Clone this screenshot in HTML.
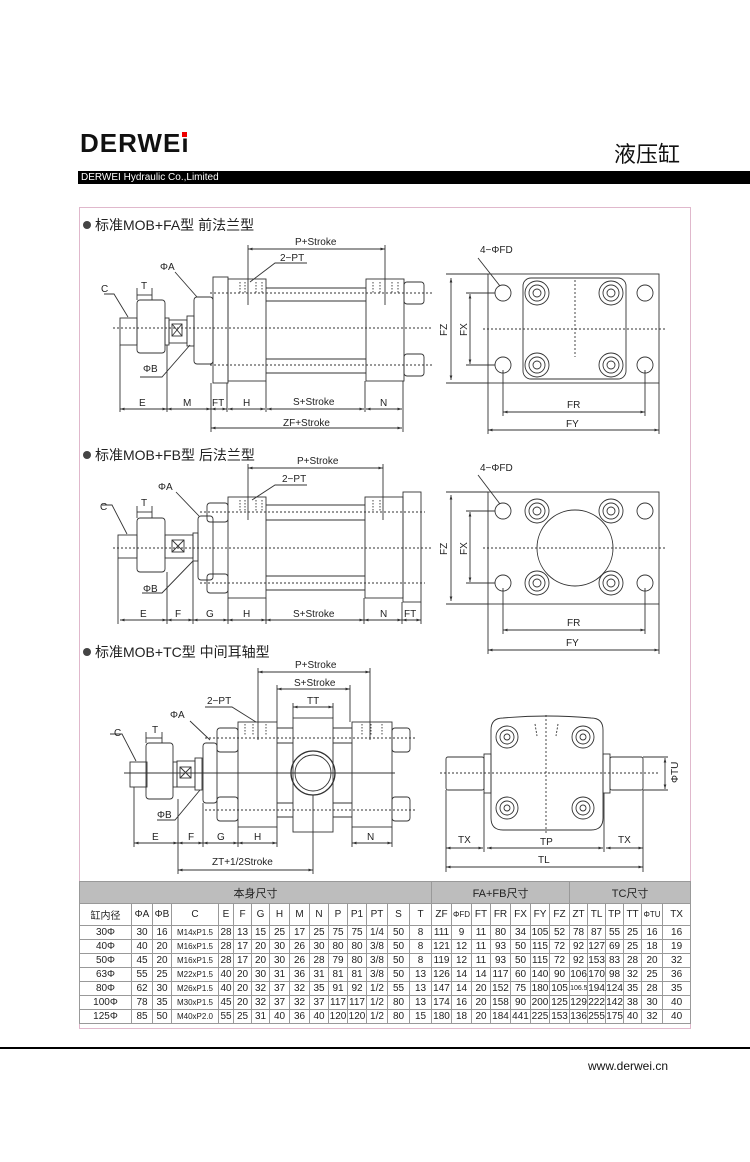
<!DOCTYPE html>
<html><head><meta charset="utf-8"><style>
body{margin:0;background:#fff;width:750px;height:1162px;position:relative;overflow:hidden;font-family:"Liberation Sans","Noto Sans CJK SC",sans-serif}
.abs{position:absolute}
table{border-collapse:collapse;table-layout:fixed;position:absolute;left:79px;top:881px;width:611px;font-size:10px;color:#222}
td{border:1px solid #999;text-align:center;padding:0;height:13px;white-space:nowrap;overflow:hidden}
tr.h1 td{background:#bdbdbd;height:21px;font-size:11px}
tr.h2 td{height:21px;font-size:10px}
</style></head><body>
<div class="abs" style="left:80px;top:128px;font-size:26px;font-weight:bold;letter-spacing:1px;color:#111">DERWE<span style="position:relative">ı<span style="position:absolute;left:1px;top:4px;width:5px;height:5px;background:#e00"></span></span></div>
<div class="abs" style="left:614px;top:137px;font-size:22px;color:#111">液压缸</div>
<div class="abs" style="left:78px;top:171px;width:672px;height:13px;background:#000;color:#fff;font-size:10px;line-height:13px;padding-left:3px">DERWEI Hydraulic Co.,Limited</div>
<div class="abs" style="left:79px;top:207px;width:610px;height:820px;border:1px solid #e0b8cc"></div>
<div class="abs" style="left:0;top:1047px;width:750px;height:2px;background:#000"></div>
<div class="abs" style="left:588px;top:1059px;font-size:12px;color:#111">www.derwei.cn</div>

<svg class="abs" style="left:0;top:0" width="750" height="1162" font-family="Liberation Sans, sans-serif" font-size="10" fill="none" stroke="#333" stroke-width="0.9">
<defs><marker id="a" viewBox="0 0 10 10" refX="10" refY="5" markerWidth="6" markerHeight="5" orient="auto-start-reverse"><path d="M0,2 L10,5 L0,8z" fill="#333" stroke="none"/></marker></defs>
<g fill="#222" stroke="none" font-size="14" font-family="Liberation Sans, Noto Sans CJK SC, sans-serif">
<circle cx="87" cy="225" r="4" fill="#444"/><text x="95" y="230">标准MOB+FA型 前法兰型</text>
<circle cx="87" cy="455" r="4" fill="#444"/><text x="95" y="460">标准MOB+FB型 后法兰型</text>
<circle cx="87" cy="652" r="4" fill="#444"/><text x="95" y="657">标准MOB+TC型 中间耳轴型</text>
</g>

<!-- FA left -->
<g>
<line x1="113" y1="328" x2="432" y2="328" stroke-dasharray="2,2"/>
<line x1="210" y1="293" x2="432" y2="293" stroke-dasharray="2,2"/>
<line x1="210" y1="365" x2="432" y2="365" stroke-dasharray="2,2"/>
<rect x="120" y="318" width="17" height="27"/><rect x="137" y="300" width="28" height="53" rx="3"/>
<rect x="165" y="318" width="4" height="27"/><rect x="169" y="320" width="18" height="23"/>
<rect x="172" y="324" width="10" height="12"/><path d="M172,324 L182,336 M182,324 L172,336"/>
<rect x="187" y="316" width="7" height="30"/>
<rect x="194" y="297" width="19" height="67" rx="3"/>
<rect x="213" y="277" width="15" height="106"/>
<rect x="228" y="279" width="38" height="102"/>
<line x1="266" y1="288" x2="366" y2="288"/><line x1="266" y1="301" x2="366" y2="301"/>
<line x1="266" y1="359" x2="366" y2="359"/><line x1="266" y1="373" x2="366" y2="373"/>
<rect x="366" y="279" width="38" height="102"/>
<rect x="404" y="282" width="20" height="22" rx="3"/><rect x="404" y="354" width="20" height="22" rx="3"/>
<path d="M240,282 v12 M245,282 v12 M256,282 v12 M262,282 v12 M373,282 v12 M380,282 v12 M392,282 v12 M398,282 v12" stroke-dasharray="1.5,1.5"/>
<line x1="248" y1="245" x2="248" y2="305"/><line x1="385" y1="245" x2="385" y2="305"/>
<line x1="248" y1="249" x2="385" y2="249" marker-start="url(#a)" marker-end="url(#a)"/>
<path d="M250,282 L275,263 L307,263"/>
<path d="M175,272 L197,297"/><path d="M104,294 L114,294 L128,317"/><path d="M190,345 L162,377 L140,377"/>
<line x1="137" y1="288" x2="137" y2="300"/><line x1="152" y1="288" x2="152" y2="300"/>
<line x1="137" y1="295" x2="152" y2="295"/>
<path d="M120,345 V412 M167,345 V412 M211,383 V432 M227,383 V412 M266,381 V412 M365,381 V412 M403,381 V432"/>
<line x1="120" y1="409" x2="167" y2="409" marker-start="url(#a)" marker-end="url(#a)"/>
<line x1="167" y1="409" x2="211" y2="409" marker-start="url(#a)" marker-end="url(#a)"/>
<line x1="211" y1="409" x2="227" y2="409" marker-start="url(#a)" marker-end="url(#a)"/>
<line x1="228" y1="409" x2="265" y2="409" marker-start="url(#a)" marker-end="url(#a)"/>
<line x1="267" y1="409" x2="364" y2="409" marker-start="url(#a)" marker-end="url(#a)"/>
<line x1="366" y1="409" x2="402" y2="409" marker-start="url(#a)" marker-end="url(#a)"/>
<line x1="211" y1="428" x2="402" y2="428" marker-start="url(#a)" marker-end="url(#a)"/>
<g fill="#222" stroke="none"><text x="295" y="245">P+Stroke</text><text x="280" y="261">2−PT</text><text x="160" y="270">ΦA</text><text x="101" y="292">C</text><text x="141" y="289">T</text><text x="143" y="372">ΦB</text>
<text x="139" y="406">E</text><text x="183" y="406">M</text><text x="212" y="406">FT</text><text x="243" y="406">H</text><text x="293" y="405">S+Stroke</text><text x="380" y="406">N</text><text x="283" y="426">ZF+Stroke</text></g>
</g>

<!-- FA right -->
<g>
<rect x="488" y="274" width="171" height="109"/><rect x="523" y="278" width="103" height="101" rx="8"/>
<line x1="483" y1="329" x2="667" y2="329" stroke-dasharray="2,2"/><line x1="575" y1="280" x2="575" y2="357" stroke-dasharray="2,2"/>
<circle cx="503" cy="293" r="8"/><circle cx="645" cy="293" r="8"/><circle cx="503" cy="365" r="8"/><circle cx="645" cy="365" r="8"/>
<g><circle cx="537" cy="293" r="12"/><circle cx="537" cy="293" r="8"/><circle cx="537" cy="293" r="4"/>
<circle cx="611" cy="293" r="12"/><circle cx="611" cy="293" r="8"/><circle cx="611" cy="293" r="4"/>
<circle cx="537" cy="365" r="12"/><circle cx="537" cy="365" r="8"/><circle cx="537" cy="365" r="4"/>
<circle cx="611" cy="365" r="12"/><circle cx="611" cy="365" r="8"/><circle cx="611" cy="365" r="4"/></g>
<path d="M446,274 H488 M446,383 H488 M466,293 H495 M466,365 H495 M503,370 V416 M645,370 V416 M488,383 V434 M659,383 V434"/>
<line x1="451" y1="278" x2="451" y2="380" marker-start="url(#a)" marker-end="url(#a)"/>
<line x1="470" y1="294" x2="470" y2="364" marker-start="url(#a)" marker-end="url(#a)"/>
<line x1="503" y1="412" x2="645" y2="412" marker-start="url(#a)" marker-end="url(#a)"/>
<line x1="488" y1="430" x2="659" y2="430" marker-start="url(#a)" marker-end="url(#a)"/>
<path d="M478,258 L500,286"/>
<g fill="#222" stroke="none"><text x="480" y="253">4−ΦFD</text><text x="567" y="408">FR</text><text x="566" y="427">FY</text>
<text transform="translate(447,336) rotate(-90)">FZ</text><text transform="translate(467,336) rotate(-90)">FX</text></g>
</g>

<!-- FB left -->
<g>
<line x1="113" y1="548" x2="432" y2="548" stroke-dasharray="2,2"/>
<line x1="200" y1="512" x2="425" y2="512" stroke-dasharray="2,2"/>
<line x1="200" y1="583" x2="425" y2="583" stroke-dasharray="2,2"/>
<rect x="118" y="535" width="19" height="23"/><rect x="137" y="518" width="28" height="54" rx="3"/>
<rect x="165" y="535" width="28" height="23"/><rect x="172" y="540" width="12" height="12"/><path d="M172,540 L184,552 M184,540 L172,552"/>
<rect x="193" y="533" width="5" height="28"/><rect x="198" y="516" width="15" height="64" rx="3"/>
<rect x="207" y="503" width="21" height="19" rx="3"/><rect x="207" y="574" width="21" height="19" rx="3"/>
<rect x="228" y="497" width="38" height="101"/>
<line x1="266" y1="505" x2="365" y2="505"/><line x1="266" y1="520" x2="365" y2="520"/>
<line x1="266" y1="576" x2="365" y2="576"/><line x1="266" y1="590" x2="365" y2="590"/>
<rect x="365" y="497" width="38" height="101"/><rect x="403" y="492" width="18" height="110"/>
<path d="M240,500 v12 M245,500 v12 M256,500 v12 M262,500 v12 M373,500 v12 M380,500 v12" stroke-dasharray="1.5,1.5"/>
<line x1="248" y1="464" x2="248" y2="520"/><line x1="383" y1="464" x2="383" y2="520"/>
<line x1="248" y1="468" x2="383" y2="468" marker-start="url(#a)" marker-end="url(#a)"/>
<path d="M252,500 L275,485 L307,485"/>
<path d="M176,492 L199,516"/><path d="M102,505 L112,505 L127,534"/><path d="M193,561 L162,593 L142,593"/>
<line x1="137" y1="506" x2="137" y2="518"/><line x1="152" y1="506" x2="152" y2="518"/><line x1="137" y1="512" x2="152" y2="512"/>
<path d="M118,558 V624 M167,572 V624 M193,561 V624 M228,598 V624 M266,598 V624 M364,598 V624 M402,602 V624 M421,602 V624"/>
<line x1="120" y1="620" x2="167" y2="620" marker-start="url(#a)" marker-end="url(#a)"/>
<line x1="167" y1="620" x2="193" y2="620" marker-start="url(#a)" marker-end="url(#a)"/>
<line x1="193" y1="620" x2="228" y2="620" marker-start="url(#a)" marker-end="url(#a)"/>
<line x1="228" y1="620" x2="266" y2="620" marker-start="url(#a)" marker-end="url(#a)"/>
<line x1="266" y1="620" x2="364" y2="620" marker-start="url(#a)" marker-end="url(#a)"/>
<line x1="364" y1="620" x2="402" y2="620" marker-start="url(#a)" marker-end="url(#a)"/>
<line x1="402" y1="620" x2="421" y2="620" marker-start="url(#a)" marker-end="url(#a)"/>
<g fill="#222" stroke="none"><text x="297" y="464">P+Stroke</text><text x="282" y="482">2−PT</text><text x="158" y="490">ΦA</text><text x="100" y="510">C</text><text x="141" y="506">T</text><text x="143" y="592">ΦB</text>
<text x="140" y="617">E</text><text x="175" y="617">F</text><text x="206" y="617">G</text><text x="243" y="617">H</text><text x="293" y="617">S+Stroke</text><text x="380" y="617">N</text><text x="404" y="617">FT</text></g>
</g>

<!-- FB right -->
<g>
<rect x="488" y="492" width="171" height="112"/><circle cx="575" cy="548" r="38"/>
<line x1="483" y1="548" x2="667" y2="548" stroke-dasharray="2,2"/>
<circle cx="503" cy="511" r="8"/><circle cx="645" cy="511" r="8"/><circle cx="503" cy="583" r="8"/><circle cx="645" cy="583" r="8"/>
<g><circle cx="537" cy="511" r="12"/><circle cx="537" cy="511" r="8"/><circle cx="537" cy="511" r="4"/>
<circle cx="611" cy="511" r="12"/><circle cx="611" cy="511" r="8"/><circle cx="611" cy="511" r="4"/>
<circle cx="537" cy="583" r="12"/><circle cx="537" cy="583" r="8"/><circle cx="537" cy="583" r="4"/>
<circle cx="611" cy="583" r="12"/><circle cx="611" cy="583" r="8"/><circle cx="611" cy="583" r="4"/></g>
<path d="M446,492 H488 M446,604 H488 M466,511 H495 M466,583 H495 M503,588 V634 M645,588 V634 M488,604 V654 M659,604 V654"/>
<line x1="451" y1="495" x2="451" y2="601" marker-start="url(#a)" marker-end="url(#a)"/>
<line x1="470" y1="512" x2="470" y2="582" marker-start="url(#a)" marker-end="url(#a)"/>
<line x1="503" y1="630" x2="645" y2="630" marker-start="url(#a)" marker-end="url(#a)"/>
<line x1="488" y1="650" x2="659" y2="650" marker-start="url(#a)" marker-end="url(#a)"/>
<path d="M478,475 L500,504"/>
<g fill="#222" stroke="none"><text x="480" y="471">4−ΦFD</text><text x="567" y="626">FR</text><text x="566" y="646">FY</text>
<text transform="translate(447,555) rotate(-90)">FZ</text><text transform="translate(467,555) rotate(-90)">FX</text></g>
</g>

<!-- TC left -->
<g>
<line x1="124" y1="773" x2="395" y2="773"/>
<line x1="205" y1="738" x2="415" y2="738" stroke-dasharray="2,2"/>
<line x1="205" y1="810" x2="415" y2="810" stroke-dasharray="2,2"/>
<rect x="130" y="762" width="17" height="25"/><rect x="146" y="743" width="27" height="56" rx="3"/>
<rect x="173" y="762" width="4" height="25"/><rect x="177" y="761" width="18" height="26"/>
<rect x="180" y="767" width="11" height="11"/><path d="M180,767 L191,778 M191,767 L180,778"/>
<rect x="195" y="758" width="7" height="32"/><rect x="203" y="743" width="14" height="60" rx="3"/>
<rect x="217" y="728" width="21" height="24" rx="3"/><rect x="217" y="797" width="21" height="24" rx="3"/>
<rect x="238" y="722" width="39" height="105"/>
<path d="M277,728 H293 M277,743 H293 M277,803 H293 M277,817 H293 M333,728 H352 M333,743 H352 M333,803 H352 M333,817 H352"/>
<rect x="293" y="718" width="40" height="114"/>
<circle cx="313" cy="773" r="22" stroke-width="1.3"/><circle cx="313" cy="773" r="18"/>
<rect x="352" y="722" width="40" height="105"/>
<rect x="392" y="728" width="18" height="24" rx="3"/><rect x="392" y="797" width="18" height="24" rx="3"/>
<path d="M245,724 v12 M253,724 v12 M266,724 v12 M362,724 v12 M371,724 v12 M382,724 v12" stroke-dasharray="1.5,1.5"/>
<line x1="258" y1="668" x2="258" y2="740"/><line x1="370" y1="668" x2="370" y2="740"/>
<line x1="277" y1="685" x2="277" y2="722"/><line x1="350" y1="685" x2="350" y2="722"/>
<line x1="293" y1="703" x2="293" y2="718"/><line x1="333" y1="703" x2="333" y2="718"/>
<line x1="258" y1="672" x2="370" y2="672" marker-start="url(#a)" marker-end="url(#a)"/>
<line x1="277" y1="689" x2="350" y2="689" marker-start="url(#a)" marker-end="url(#a)"/>
<line x1="293" y1="707" x2="333" y2="707" marker-start="url(#a)" marker-end="url(#a)"/>
<path d="M205,707 L232,707 L256,722"/>
<path d="M190,721 L210,740"/><path d="M110,734 L122,734 L136,761"/><path d="M200,790 L175,820 L157,820"/>
<line x1="146" y1="732" x2="146" y2="743"/><line x1="162" y1="732" x2="162" y2="743"/><line x1="146" y1="738" x2="162" y2="738"/>
<path d="M134,787 V847 M178,799 V874 M203,803 V847 M238,827 V847 M277,827 V847 M313,795 V874 M352,827 V847 M392,827 V847"/>
<line x1="134" y1="843" x2="178" y2="843" marker-start="url(#a)" marker-end="url(#a)"/>
<line x1="178" y1="843" x2="203" y2="843" marker-start="url(#a)" marker-end="url(#a)"/>
<line x1="203" y1="843" x2="238" y2="843" marker-start="url(#a)" marker-end="url(#a)"/>
<line x1="238" y1="843" x2="277" y2="843" marker-start="url(#a)" marker-end="url(#a)"/>
<line x1="352" y1="843" x2="392" y2="843" marker-start="url(#a)" marker-end="url(#a)"/>
<line x1="178" y1="870" x2="313" y2="870" marker-start="url(#a)" marker-end="url(#a)"/>
<g fill="#222" stroke="none"><text x="295" y="668">P+Stroke</text><text x="294" y="686">S+Stroke</text><text x="307" y="704">TT</text><text x="207" y="704">2−PT</text><text x="170" y="718">ΦA</text><text x="114" y="736">C</text><text x="152" y="733">T</text><text x="157" y="818">ΦB</text>
<text x="152" y="840">E</text><text x="188" y="840">F</text><text x="217" y="840">G</text><text x="254" y="840">H</text><text x="367" y="840">N</text><text x="212" y="865">ZT+1/2Stroke</text></g>
</g>

<!-- TC right -->
<g>
<path d="M491,730 Q491,718 503,718 Q547,714 591,718 Q603,718 603,730 L603,818 Q603,830 591,830 L503,830 Q491,830 491,818 Z"/>
<rect x="446" y="757" width="38" height="33" rx="2"/><rect x="484" y="754" width="7" height="39"/>
<rect x="610" y="757" width="33" height="33" rx="2"/><rect x="603" y="754" width="7" height="39"/>
<line x1="440" y1="773" x2="660" y2="773" stroke-dasharray="2,2"/><line x1="546" y1="715" x2="546" y2="835" stroke-dasharray="2,2"/>
<path d="M535,724 l2,12 M558,724 l-2,12" stroke-dasharray="2,1.5"/>
<g><circle cx="507" cy="737" r="11"/><circle cx="507" cy="737" r="7"/><circle cx="507" cy="737" r="3"/>
<circle cx="583" cy="737" r="11"/><circle cx="583" cy="737" r="7"/><circle cx="583" cy="737" r="3"/>
<circle cx="507" cy="808" r="11"/><circle cx="507" cy="808" r="7"/><circle cx="507" cy="808" r="3"/>
<circle cx="583" cy="808" r="11"/><circle cx="583" cy="808" r="7"/><circle cx="583" cy="808" r="3"/></g>
<path d="M446,790 V872 M484,793 V852 M604,793 V852 M643,790 V872 M643,757 H668 M643,790 H668"/>
<line x1="446" y1="848" x2="483" y2="848" marker-start="url(#a)" marker-end="url(#a)"/>
<line x1="487" y1="848" x2="603" y2="848" marker-start="url(#a)" marker-end="url(#a)"/>
<line x1="606" y1="848" x2="643" y2="848" marker-start="url(#a)" marker-end="url(#a)"/>
<line x1="446" y1="867" x2="643" y2="867" marker-start="url(#a)" marker-end="url(#a)"/>
<line x1="665" y1="758" x2="665" y2="789" marker-start="url(#a)" marker-end="url(#a)"/>
<g fill="#222" stroke="none"><text x="458" y="843">TX</text><text x="540" y="845">TP</text><text x="618" y="843">TX</text><text x="538" y="863">TL</text>
<text transform="translate(678,783) rotate(-90)">ΦTU</text></g>
</g>
</svg>

<table>
<colgroup><col style="width:52px"><col style="width:21px"><col style="width:19px"><col style="width:47px"><col style="width:15px"><col style="width:18px"><col style="width:18px"><col style="width:20px"><col style="width:20px"><col style="width:19px"><col style="width:19px"><col style="width:19px"><col style="width:21px"><col style="width:22px"><col style="width:22px"><col style="width:20px"><col style="width:20px"><col style="width:19px"><col style="width:20px"><col style="width:20px"><col style="width:19px"><col style="width:20px"><col style="width:18px"><col style="width:18px"><col style="width:18px"><col style="width:18px"><col style="width:21px"><col style="width:28px"></colgroup>
<tr class="h1"><td colspan="15">本身尺寸</td><td colspan="7">FA+FB尺寸</td><td colspan="6">TC尺寸</td></tr>
<tr class="h2"><td>缸内径</td><td>ΦA</td><td>ΦB</td><td>C</td><td>E</td><td>F</td><td>G</td><td>H</td><td>M</td><td>N</td><td>P</td><td>P1</td><td>PT</td><td>S</td><td>T</td><td>ZF</td><td style="font-size:8px">ΦFD</td><td>FT</td><td>FR</td><td>FX</td><td>FY</td><td>FZ</td><td>ZT</td><td>TL</td><td>TP</td><td>TT</td><td style="font-size:8px">ΦTU</td><td>TX</td></tr>
<tr><td>30Φ</td><td>30</td><td>16</td><td style="font-size:8px">M14xP1.5</td><td>28</td><td>13</td><td>15</td><td>25</td><td>17</td><td>25</td><td>75</td><td>75</td><td>1/4</td><td>50</td><td>8</td><td>111</td><td>9</td><td>11</td><td>80</td><td>34</td><td>105</td><td>52</td><td>78</td><td>87</td><td>55</td><td>25</td><td>16</td><td>16</td></tr>
<tr><td>40Φ</td><td>40</td><td>20</td><td style="font-size:8px">M16xP1.5</td><td>28</td><td>17</td><td>20</td><td>30</td><td>26</td><td>30</td><td>80</td><td>80</td><td>3/8</td><td>50</td><td>8</td><td>121</td><td>12</td><td>11</td><td>93</td><td>50</td><td>115</td><td>72</td><td>92</td><td>127</td><td>69</td><td>25</td><td>18</td><td>19</td></tr>
<tr><td>50Φ</td><td>45</td><td>20</td><td style="font-size:8px">M16xP1.5</td><td>28</td><td>17</td><td>20</td><td>30</td><td>26</td><td>28</td><td>79</td><td>80</td><td>3/8</td><td>50</td><td>8</td><td>119</td><td>12</td><td>11</td><td>93</td><td>50</td><td>115</td><td>72</td><td>92</td><td>153</td><td>83</td><td>28</td><td>20</td><td>32</td></tr>
<tr><td>63Φ</td><td>55</td><td>25</td><td style="font-size:8px">M22xP1.5</td><td>40</td><td>20</td><td>30</td><td>31</td><td>36</td><td>31</td><td>81</td><td>81</td><td>3/8</td><td>50</td><td>13</td><td>126</td><td>14</td><td>14</td><td>117</td><td>60</td><td>140</td><td>90</td><td>106</td><td>170</td><td>98</td><td>32</td><td>25</td><td>36</td></tr>
<tr><td>80Φ</td><td>62</td><td>30</td><td style="font-size:8px">M26xP1.5</td><td>40</td><td>20</td><td>32</td><td>37</td><td>32</td><td>35</td><td>91</td><td>92</td><td>1/2</td><td>55</td><td>13</td><td>147</td><td>14</td><td>20</td><td>152</td><td>75</td><td>180</td><td>105</td><td style="font-size:7px">106.5</td><td>194</td><td>124</td><td>35</td><td>28</td><td>35</td></tr>
<tr><td>100Φ</td><td>78</td><td>35</td><td style="font-size:8px">M30xP1.5</td><td>45</td><td>20</td><td>32</td><td>37</td><td>32</td><td>37</td><td>117</td><td>117</td><td>1/2</td><td>80</td><td>13</td><td>174</td><td>16</td><td>20</td><td>158</td><td>90</td><td>200</td><td>125</td><td>129</td><td>222</td><td>142</td><td>38</td><td>30</td><td>40</td></tr>
<tr><td>125Φ</td><td>85</td><td>50</td><td style="font-size:8px">M40xP2.0</td><td>55</td><td>25</td><td>31</td><td>40</td><td>36</td><td>40</td><td>120</td><td>120</td><td>1/2</td><td>80</td><td>15</td><td>180</td><td>18</td><td>20</td><td>184</td><td>441</td><td>225</td><td>153</td><td>136</td><td>255</td><td>175</td><td>40</td><td>32</td><td>40</td></tr>
</table>
</body></html>
